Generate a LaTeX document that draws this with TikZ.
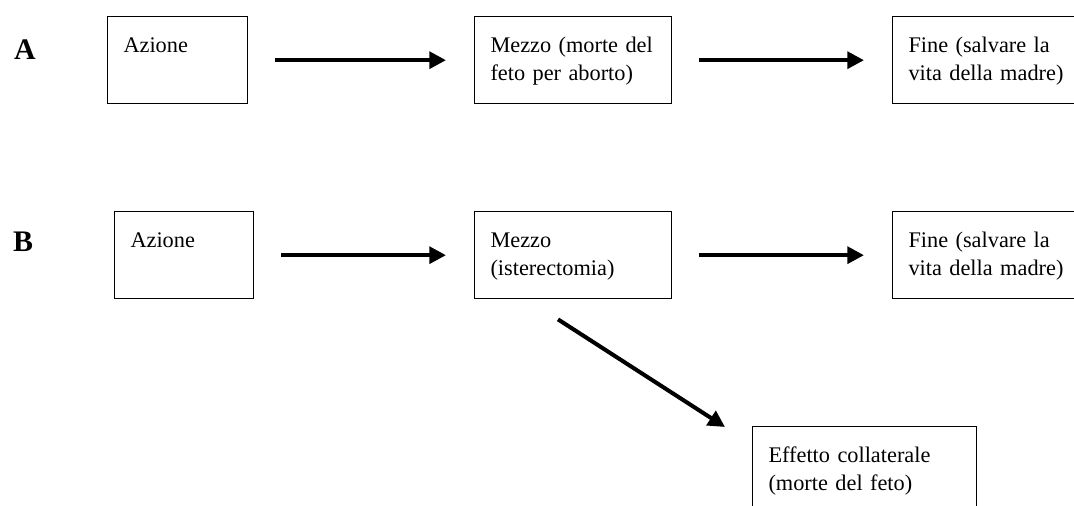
\documentclass[tikz,border=0pt]{standalone}
\usepackage{fontspec}
\setmainfont{Liberation Serif}
\usetikzlibrary{arrows.meta,calc}

\begin{document}
\begin{tikzpicture}[x=0.02cm, y=-0.02cm,
  blocco/.style={draw, line width=0.8pt, anchor=north west, align=left,
    inner xsep=9pt, inner ysep=8pt, text height=12.5pt, text depth=21pt,
    text width={#1-18pt}, font=\fontsize{12.7}{16}\selectfont},
  freccia/.style={line width=2.3pt, -{Triangle[length=9.5pt,width=9.5pt]},
    shorten <=0.54cm, shorten >=0.56cm},
  lettera/.style={font=\fontsize{17}{20}\selectfont\bfseries}]
\useasboundingbox (0,0) rectangle (1074,506);
\clip (0,0) rectangle (1074,506);
\node[lettera] (labA) at (25,50) {A};
\node[blocco=2.8cm] (azA) at (107,16) {Azione};
\node[blocco=3.94cm] (mezA) at (474,16) {Mezzo (morte del\\feto per aborto)};
\node[blocco=4.2cm] (finA) at (892,16) {Fine (salvare la\\vita della madre)};
\draw[freccia] (azA) -- (mezA);
\draw[freccia] (mezA) -- (finA);
\node[lettera] (labB) at (23,242) {B};
\node[blocco=2.78cm] (azB) at (114,211) {Azione};
\node[blocco=3.94cm] (mezB) at (474,211) {Mezzo\\(isterectomia)};
\node[blocco=4.2cm] (finB) at (892,211) {Fine (salvare la\\vita della madre)};
\node[blocco=4.48cm, text depth=60pt] (effetto) at (752,426) {Effetto collaterale\\(morte del feto)};
\draw[freccia] (azB) -- (mezB);
\draw[freccia] (mezB) -- (finB);
\draw[freccia, shorten <=0pt, shorten >=0pt] ($(mezB.south west)+(84,20)$) -- ($(effetto.north west)+(-27,1)$);
\end{tikzpicture}
\end{document}
